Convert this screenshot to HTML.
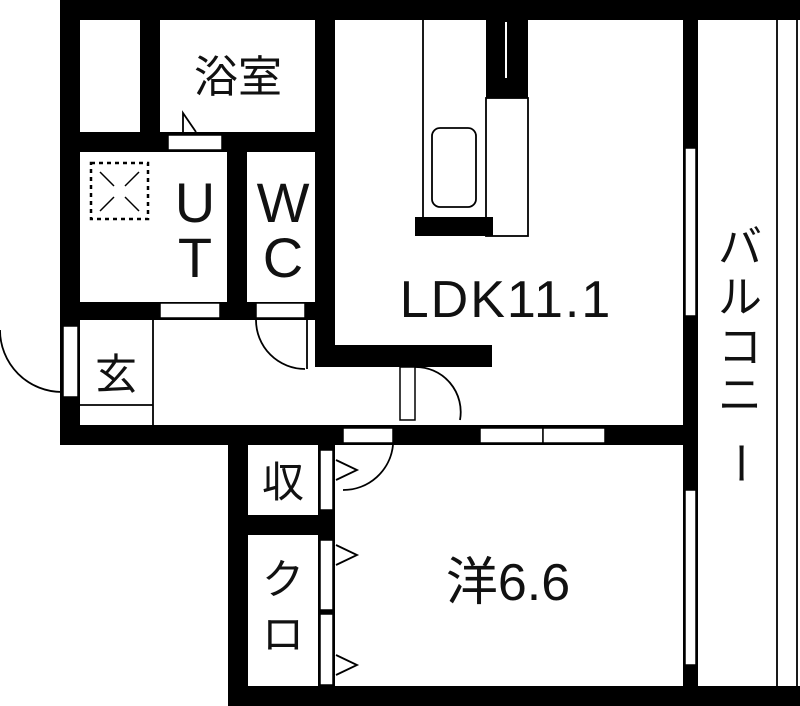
<!DOCTYPE html>
<html><head><meta charset="utf-8"><style>
html,body{margin:0;padding:0;background:#fff}
svg{display:block}
text{font-family:"Liberation Sans","Noto Sans CJK JP",sans-serif;fill:#111}
</style></head><body>
<svg width="800" height="706" viewBox="0 0 800 706" xmlns="http://www.w3.org/2000/svg">
<rect width="800" height="706" fill="#fff"/>
<g fill="#000">
<rect x="60" y="0" width="740" height="20"/>
<rect x="60" y="0" width="20" height="445"/>
<rect x="60" y="425" width="623" height="20"/>
<rect x="228" y="425" width="20" height="281"/>
<rect x="228" y="686" width="572" height="20"/>
<rect x="683" y="0" width="15" height="706"/>
<rect x="140" y="0" width="20" height="150"/>
<rect x="80" y="132" width="255" height="20"/>
<rect x="315" y="0" width="20" height="367"/>
<rect x="227" y="132" width="20" height="188"/>
<rect x="60" y="302" width="275" height="18"/>
<rect x="315" y="345" width="177" height="22"/>
<rect x="248" y="515" width="87" height="20"/>
<rect x="318" y="445" width="17" height="241"/>
<rect x="415" y="217" width="78" height="19"/>
<rect x="486" y="20" width="42" height="78"/>
</g>
<g fill="#fff" stroke="#000" stroke-width="1.5">
<rect x="168" y="135" width="54" height="15"/>
<rect x="160" y="303" width="60" height="15"/>
<rect x="256" y="303" width="49" height="15"/>
<rect x="63" y="326" width="15" height="71"/>
<rect x="343" y="428" width="50" height="15"/>
<rect x="480" y="428" width="63" height="15"/>
<rect x="543" y="428" width="62" height="15"/>
<rect x="685" y="148" width="11" height="168"/>
<rect x="685" y="490" width="11" height="175"/>
<rect x="320" y="450" width="13" height="60"/>
<rect x="320" y="540" width="13" height="70"/>
<rect x="320" y="614" width="13" height="71"/>
<rect x="400" y="367" width="15" height="53"/>
</g>
<rect x="505" y="22" width="2" height="56" fill="#fff"/>
<g fill="none" stroke="#000" stroke-width="1.8">
<line x1="423" y1="20" x2="423" y2="217"/>
<rect x="486" y="98" width="42" height="138"/>
<rect x="432" y="128" width="44" height="79" rx="8"/>
<line x1="153" y1="320" x2="153" y2="425"/>
<line x1="80" y1="405" x2="153" y2="405"/>
<path d="M0,330 A62,62 0 0 0 62,392"/>
<path d="M256,320 A49,49 0 0 0 305,369"/>
<line x1="307" y1="320" x2="307" y2="369"/>
<path d="M415,367 A45,45 0 0 1 460,420"/>
<path d="M393,445 A50,50 0 0 1 343,490"/>
<line x1="777" y1="20" x2="777" y2="686"/>
<line x1="797" y1="20" x2="797" y2="686"/>
<path d="M183,132 L183,113 L196,132"/>
<path d="M336,460 L357,470 L336,480"/>
<path d="M336,545 L357,555 L336,565"/>
<path d="M336,655 L357,665 L336,675"/>
</g>
<rect x="91" y="163" width="57" height="56" fill="none" stroke="#000" stroke-width="2.5" stroke-dasharray="4,4"/>
<g stroke="#000" stroke-width="1.5"><line x1="100" y1="172" x2="114" y2="186"/><line x1="125" y1="197" x2="139" y2="211"/><line x1="139" y1="172" x2="125" y2="186"/><line x1="114" y1="197" x2="100" y2="211"/></g>
<g text-anchor="middle">
<text x="238" y="92" font-size="44">浴室</text>
<text x="195" y="222" font-size="56">U</text>
<text x="195" y="277" font-size="56">T</text>
<text x="283" y="222" font-size="56">W</text>
<text x="283" y="277" font-size="56">C</text>
<text x="506" y="317" font-size="52" letter-spacing="2">LDK11.1</text>
<text x="116" y="389" font-size="42">玄</text>
<text x="283" y="497" font-size="42">収</text>
<text x="283" y="594" font-size="42">ク</text>
<text x="283" y="649" font-size="42">ロ</text>
<text x="508" y="600" font-size="52">洋6.6</text>
<text x="740" y="262" font-size="44">バ</text>
<text x="740" y="312" font-size="44">ル</text>
<text x="740" y="362" font-size="44">コ</text>
<text x="740" y="410" font-size="44">ニ</text>
<text x="740" y="478" font-size="44" transform="rotate(90 740 463)">ー</text>
</g>
</svg>
</body></html>
